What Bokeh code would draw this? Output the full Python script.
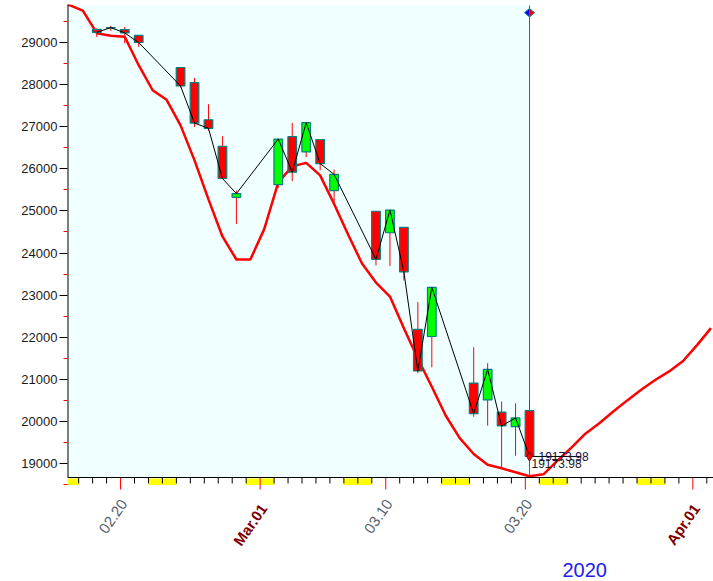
import datetime as dt
from bokeh.plotting import figure
from bokeh.models import Range1d, FixedTicker, BoxAnnotation, Label
from bokeh.embed import file_html
from bokeh.resources import INLINE

# ---------------- data ----------------
dates = ["2020-02-18", "2020-02-19", "2020-02-20", "2020-02-21",
         "2020-02-24", "2020-02-25", "2020-02-26", "2020-02-27", "2020-02-28",
         "2020-03-02", "2020-03-03", "2020-03-04", "2020-03-05", "2020-03-06",
         "2020-03-09", "2020-03-10", "2020-03-11", "2020-03-12", "2020-03-13",
         "2020-03-16", "2020-03-17", "2020-03-18", "2020-03-19", "2020-03-20"]
opens = [29305, 29335, 29300, 29160,
         28400, 28040, 27160, 26530, 25320,
         25620, 26760, 26400, 26690, 25480,
         24990, 24480, 24610, 22190, 22020,
         20915, 20515, 20225, 19880, 20260]
highs = [29325, 29390, 29365, 29165,
         28402, 28150, 27530, 26770, 25480,
         26710, 27085, 27100, 26690, 25980,
         24995, 25025, 24610, 22835, 23190,
         21765, 21385, 20475, 20435, 20515]
lows = [29125, 29270, 28975, 28890,
        27925, 26990, 26905, 25760, 24690,
        25540, 25705, 26275, 25960, 25200,
        23705, 23690, 23345, 21150, 21290,
        20115, 19905, 18890, 19190, 19174]
closes = [29232.19, 29348.03, 29219.98, 28992.41,
          27960.80, 27081.36, 26957.59, 25766.64, 25409.36,
          26703.32, 25917.41, 27090.86, 26121.28, 25864.78,
          23851.02, 25018.16, 23553.22, 21200.62, 23185.62,
          20188.52, 21237.38, 19898.92, 20087.19, 19173.98]

curve_start = "2020-02-15"
curve_values = [29974, 29886, 29748, 29214, 29154, 29131, 28454, 27860, 27634, 27028,
                26197, 25271, 24392, 23846, 23846, 24572, 25675, 26055, 26138, 25841,
                25164, 24439, 23751, 23299, 22967, 22216, 21494, 20829, 20140, 19608,
                19233, 18976, 18893, 18798, 18703, 18750, 19074, 19382, 19715, 19962,
                20242, 20504, 20758, 20988, 21192, 21439, 21815, 22218]

tick_dates = ["2020-02-20", "2020-03-01", "2020-03-10", "2020-03-20", "2020-04-01"]
tick_labels = ["02.20", "Mar.01", "03.10", "03.20", "Apr.01"]
y_ticks = list(range(19000, 29001, 1000))

# ---------------- geometry ----------------
BASE = dt.date(2020, 2, 20)


def day(s):
    return (dt.date.fromisoformat(s) - BASE).days


SHIFT = 0.3
W, H = 713, 581
LEFT, TOP = 67, 4
AXIS_PX = 477                      # page y of the date axis line
FRAME_W, FRAME_H = W - LEFT, H - TOP
X0, X1 = -3.80, 42.48
XPX = (X1 - X0) / FRAME_W
YPX = 1000 / 42.16
AXIS_Y = 19000 - (AXIS_PX - 463.3) * YPX
Y0 = AXIS_Y - (H - AXIS_PX) * YPX
Y1 = AXIS_Y + (AXIS_PX - TOP) * YPX

cx = [day(d) + SHIFT for d in dates]
c0 = day(curve_start)
curve_x = [c0 + i + SHIFT for i in range(len(curve_values))]
tick_x = [day(d) for d in tick_dates]

p = figure(width=W, height=H, x_range=Range1d(X0, X1), y_range=Range1d(Y0, Y1),
           output_backend="svg", toolbar_location=None, x_axis_location=None,
           min_border_left=LEFT, min_border_right=0, min_border_top=TOP,
           min_border_bottom=0, background_fill_color="white",
           border_fill_color="white", outline_line_color=None)
p.xgrid.visible = False
p.ygrid.visible = False

# cyan area up to the cursor
cursor_x = cx[-1]
p.add_layout(BoxAnnotation(right=cursor_x, bottom=AXIS_Y, fill_color="#F0FFFF",
                           fill_alpha=1.0, line_color=None, level="underlay"))

# cursor line
p.segment(x0=[cursor_x], y0=[AXIS_Y], x1=[cursor_x], y1=[Y1 - 1 * YPX],
          line_color="#008080", line_width=1)

# red curve
p.line(curve_x, curve_values, line_color="#FF0000", line_width=2.5)

# candles
p.segment(x0=cx, y0=highs, x1=cx, y1=lows, line_color="#FF0000", line_width=1)
tops = [max(o, c) for o, c in zip(opens, closes)]
bots = [min(o, c) for o, c in zip(opens, closes)]
cols = ["#00FF00" if c >= o else "#FF0000" for o, c in zip(opens, closes)]
p.vbar(x=cx, width=0.62, top=tops, bottom=bots, fill_color=cols,
       line_color="#008080", line_width=1.2)

# close line
p.line(cx, closes, line_color="black", line_width=1)

# last value marker
last = closes[-1]
p.segment(x0=[cursor_x], y0=[last], x1=[cursor_x + 51 * XPX], y1=[last],
          line_color="black", line_width=1)
p.scatter([cursor_x], [last], marker="diamond", size=9, fill_color="#FF0000",
          line_color="#800000")
p.add_layout(Label(x=cursor_x + 9 * XPX, y=last, text=f"{last:.2f}",
                   text_font="Liberation Sans", text_font_size="12px",
                   text_color="#101048", text_align="left", text_baseline="middle"))
p.add_layout(Label(x=cursor_x + 2 * XPX, y=last - 7.5 * YPX, text=f"{last:.2f}",
                   text_font="Liberation Sans", text_font_size="12px",
                   text_color="#202020", text_align="left", text_baseline="middle"))

# cursor diamond at top
dcy = Y1 - 8.2 * YPX
hw, hh = 5 * XPX, 4.2 * YPX
p.patches(xs=[[cursor_x - hw, cursor_x, cursor_x], [cursor_x, cursor_x + hw, cursor_x]],
          ys=[[dcy, dcy + hh, dcy - hh], [dcy + hh, dcy, dcy - hh]],
          fill_color=["#0000FF", "#FF0000"], line_color="#008080", line_width=1)

# ---------------- date axis (drawn through the scales) ----------------
wk_l, wk_r = [], []
for d in range(int(X0) - 2, int(X1) + 2):
    if (BASE + dt.timedelta(days=d)).weekday() >= 5:
        left, right = max(d, X0), min(d + 1, X1)
        if right > left:
            wk_l.append(left)
            wk_r.append(right)
p.quad(left=wk_l, right=wk_r, top=[AXIS_Y - 1 * YPX] * len(wk_l),
       bottom=[AXIS_Y - 7.5 * YPX] * len(wk_l), fill_color="#FFFF00", line_color=None)

minor_x = [d for d in range(int(X0), int(X1) + 1) if d not in tick_x]
p.segment(x0=minor_x, y0=[AXIS_Y] * len(minor_x), x1=minor_x,
          y1=[AXIS_Y - 6 * YPX] * len(minor_x), line_color="black", line_width=1)
p.segment(x0=tick_x, y0=[AXIS_Y] * len(tick_x), x1=tick_x,
          y1=[AXIS_Y - 12 * YPX] * len(tick_x), line_color="#FF0000", line_width=1)
p.segment(x0=[X0], y0=[AXIS_Y], x1=[X1], y1=[AXIS_Y], line_color="black", line_width=1)
# vertical value-axis line (2px wide at the frame edge -> 1px visible)
p.segment(x0=[X0], y0=[AXIS_Y], x1=[X0], y1=[Y1], line_color="black", line_width=2)

for t, lab in zip(tick_x, tick_labels):
    is_month = not lab[0].isdigit()
    below = 28 if is_month else 23.5
    p.add_layout(Label(x=t + 3.5 * XPX, y=AXIS_Y - below * YPX, text=lab,
                       angle=55, angle_units="deg", text_align="right",
                       text_baseline="middle", text_font="Liberation Sans",
                       text_font_size="15px",
                       text_font_style="bold" if is_month else "normal",
                       text_color="#800000" if is_month else "#56606B"))

year = dates[-1][:4]
p.add_layout(Label(x=X0 + (562 - LEFT) * XPX, y=AXIS_Y - (569 - AXIS_PX) * YPX,
                   text=year, text_align="left", text_baseline="middle",
                   text_font="Liberation Sans", text_font_size="20px",
                   text_color="#2020EE"))

# ---------------- value axis ----------------
p.yaxis.ticker = FixedTicker(ticks=y_ticks,
                             minor_ticks=[v + 500 for v in range(18000, 29001, 1000)])
p.yaxis.axis_line_color = None
p.yaxis.major_tick_out = 8
p.yaxis.major_tick_in = 0
p.yaxis.major_tick_line_color = "black"
p.yaxis.minor_tick_out = 4
p.yaxis.minor_tick_in = 0
p.yaxis.minor_tick_line_color = "#FF0000"
p.yaxis.major_label_text_font = "Liberation Sans"
p.yaxis.major_label_text_font_size = "13px"
p.yaxis.major_label_text_color = "#1a1a1a"
p.yaxis.major_label_standoff = 2

open("out.html", "w").write(file_html(p, INLINE))
